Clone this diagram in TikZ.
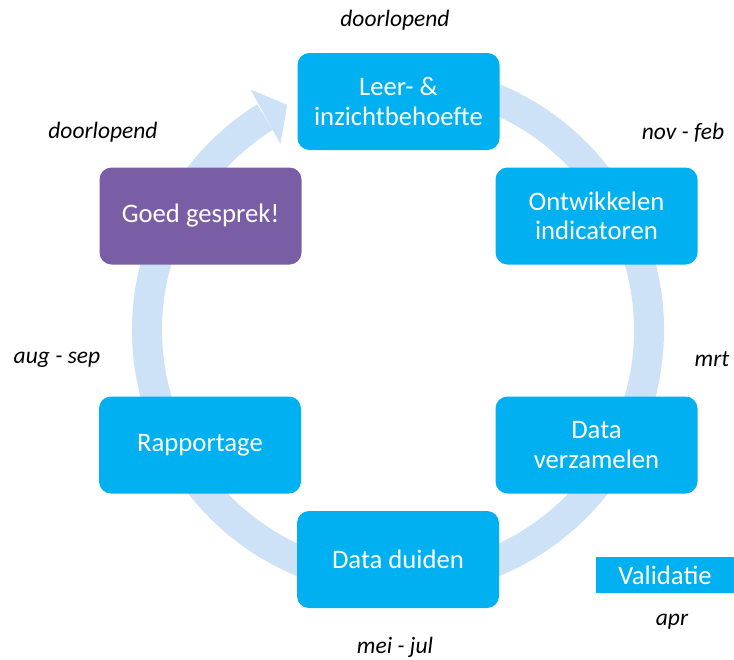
\documentclass[tikz,border=0pt]{standalone}
\usepackage{fontspec}
\setmainfont{Carlito}
\definecolor{boxblue}{RGB}{0,176,240}
\definecolor{bandblue}{RGB}{205,226,247}
\definecolor{goedpurple}{RGB}{121,94,165}
\begin{document}
\begin{tikzpicture}[x=1pt,y=1pt,
  box/.style={fill=boxblue, rounded corners=12pt, minimum width=202pt, minimum height=97pt,
    text=white, align=center, inner sep=0pt, font=\fontsize{26.7}{29.5}\selectfont},
  when/.style={font=\fontsize{23.5}{28}\selectfont\itshape, text=black, inner sep=0pt}]
\useasboundingbox (0,0) rectangle (734,-659);
% circular arrow band
\begin{scope}[shift={(398,-330)}]
  \fill[bandblue] (122:266) arc[start angle=122, end angle=460, radius=266]
    -- (460:236) arc[start angle=460, end angle=122, radius=236] -- cycle;
  \fill[bandblue] (121.5:282) -- (116.2:251) -- (122.3:220) -- cycle;
\end{scope}
% boxes
\node[box] (leer) at (398.5,-101.5) {Leer- \&\\inzichtbehoefte};
\node[box] (ontw) at (596.5,-216) {Ontwikkelen\\indicatoren};
\node[box] (verz) at (596.5,-445) {Data\\verzamelen};
\node[box] (duid) at (398,-559.5) {Data duiden};
\node[box] (rapp) at (200,-445) {Rapportage};
\node[box, fill=goedpurple] (goed) at (200.5,-216) {Goed gesprek!};
\node[fill=boxblue, minimum width=138pt, minimum height=36pt, inner sep=0pt,
  text=white, font=\fontsize{26.7}{29.5}\selectfont] (valid) at (665,-575) {Validatie};
% time labels
\node[when] (t1) at (395,-20) {doorlopend};
\node[when] (t2) at (683,-133) {nov - feb};
\node[when] (t3) at (712,-359) {mrt};
\node[when] (t4) at (672,-622) {apr};
\node[when] (t5) at (395,-647) {mei - jul};
\node[when] (t6) at (57,-360) {aug - sep};
\node[when] (t7) at (103,-132) {doorlopend};
\end{tikzpicture}
\end{document}
